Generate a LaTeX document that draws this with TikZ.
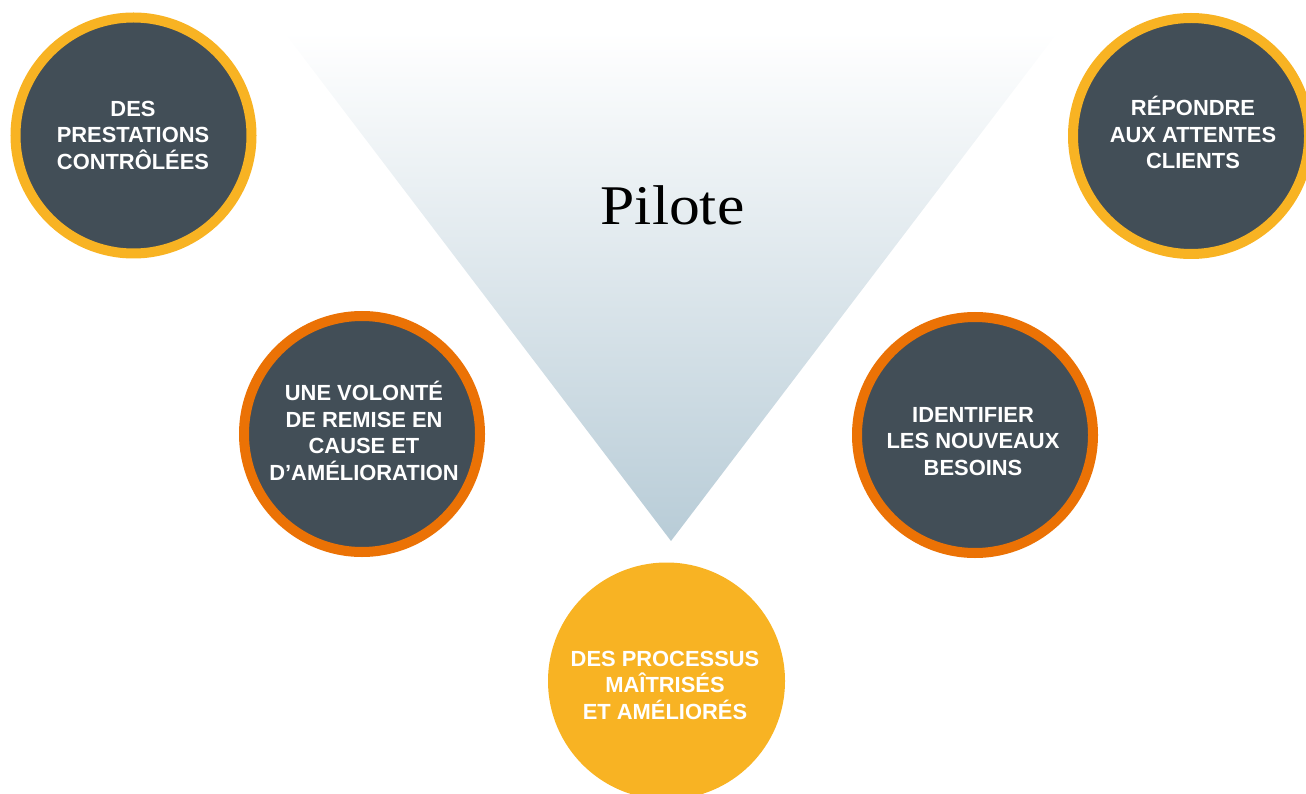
\documentclass[tikz,border=0pt]{standalone}
\usepackage{fontspec}
\newfontfamily\labelfont{Liberation Sans}
\newfontfamily\titlefont[FakeStretch=1.1]{Liberation Serif}
\definecolor{slate}{HTML}{424E57}
\definecolor{gold}{HTML}{F8B323}
\definecolor{amber}{HTML}{EB7205}
\definecolor{mist}{HTML}{B8CCD7}
\begin{document}
\begin{tikzpicture}[x=1pt,y=-1pt,
  disc/.style={circle, inner sep=0pt, minimum size=236pt, line width=10pt, fill=slate},
  goldring/.style={disc, draw=gold},
  amberring/.style={disc, draw=amber},
  goal/.style={circle, inner sep=0pt, minimum size=237pt, fill=gold},
  caption/.style={text=white, align=center, inner sep=0pt,
    font=\labelfont\bfseries\fontsize{21.9}{26.5}\selectfont}]
\useasboundingbox (0,0) rectangle (1306,794);

% funnel
\shade[top color=white, bottom color=mist] (284,32) -- (1058,32) -- (671,541) -- cycle;
\node[anchor=base, inner sep=0pt, font=\titlefont\fontsize{56}{62}\selectfont] (title) at (672.5,225) {Pilote};

% outer discs
\node[goldring] (c1) at (133.5,135.5) {};
\node[goldring] (c2) at (1191,136) {};
\node[amberring] (c3) at (362,434) {};
\node[amberring] (c4) at (975,435) {};
\node[goal] (c5) at (666.5,681) {};

% labels
\node[caption] (t1) at (133,135) {DES\\PRESTATIONS\\CONTRÔLÉES};
\node[caption] (t2) at (1193,132.5) {RÉPONDRE\\AUX ATTENTES\\CLIENTS};
\node[caption] (t3) at (364,431) {UNE VOLONTÉ\\DE REMISE EN\\CAUSE ET\\D’AMÉLIORATION};
\node[caption] (t4) at (973,441.5) {IDENTIFIER\\LES NOUVEAUX\\BESOINS};
\node[caption] (t5) at (665,685) {DES PROCESSUS\\MAÎTRISÉS\\ET AMÉLIORÉS};
\end{tikzpicture}
\end{document}
